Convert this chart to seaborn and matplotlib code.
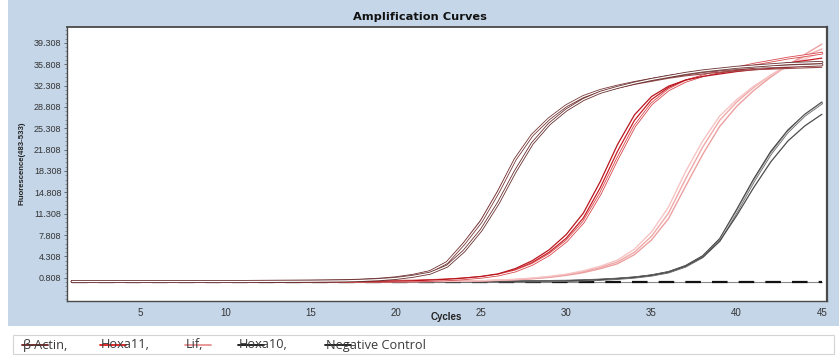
import matplotlib
matplotlib.use("Agg")
import matplotlib.pyplot as plt
from matplotlib.patches import Rectangle
from matplotlib.lines import Line2D
from matplotlib.ticker import AutoMinorLocator
import seaborn as sns
import pandas as pd

# ---------------- data ----------------
cycles = list(range(1, 46))

actin_r1 = [0.20, 0.20, 0.20, 0.20, 0.20, 0.20, 0.20, 0.20, 0.20, 0.20, 0.20, 0.21, 0.22, 0.23, 0.25, 0.28,
            0.33, 0.42, 0.56, 0.80, 1.2, 1.8, 3.3, 6.4, 10.0, 14.8, 20.2, 24.2, 26.9, 29.0, 30.5, 31.5, 32.2,
            32.8, 33.3, 33.8, 34.2, 34.6, 34.9, 35.1, 35.3, 35.4, 35.5, 35.6, 35.7]
actin_r2 = [0.20, 0.20, 0.20, 0.20, 0.20, 0.20, 0.20, 0.20, 0.20, 0.20, 0.20, 0.21, 0.22, 0.23, 0.24, 0.27,
            0.30, 0.38, 0.50, 0.70, 1.05, 1.55, 2.7, 5.2, 8.6, 13.0, 18.2, 22.8, 26.0, 28.3, 30.0, 31.2, 32.0,
            32.7, 33.3, 33.8, 34.3, 34.7, 35.0, 35.3, 35.5, 35.7, 35.9, 36.0, 36.1]
actin_r3 = [0.20, 0.20, 0.20, 0.20, 0.20, 0.20, 0.20, 0.20, 0.20, 0.20, 0.20, 0.21, 0.22, 0.23, 0.25, 0.29,
            0.34, 0.44, 0.58, 0.84, 1.25, 1.9, 3.4, 6.6, 10.3, 15.1, 20.4, 24.3, 26.9, 28.9, 30.3, 31.2, 31.9,
            32.5, 33.0, 33.5, 33.9, 34.2, 34.5, 34.7, 34.9, 35.0, 35.1, 35.2, 35.3]

hoxa11_r1 = [0.20, 0.20, 0.20, 0.20, 0.20, 0.20, 0.20, 0.20, 0.20, 0.20, 0.20, 0.20, 0.20, 0.20, 0.20, 0.20,
             0.20, 0.21, 0.23, 0.26, 0.30, 0.40, 0.52, 0.70, 0.95, 1.35, 2.1, 3.3, 5.0, 7.3, 10.6, 15.6, 21.5,
             26.6, 30.0, 32.0, 33.2, 33.9, 34.4, 34.8, 35.2, 35.6, 36.0, 36.4, 36.8]
hoxa11_r2 = [0.20, 0.20, 0.20, 0.20, 0.20, 0.20, 0.20, 0.20, 0.20, 0.20, 0.20, 0.20, 0.20, 0.20, 0.20, 0.20,
             0.20, 0.21, 0.22, 0.25, 0.28, 0.37, 0.48, 0.64, 0.88, 1.25, 1.9, 3.0, 4.6, 6.8, 9.9, 14.6, 20.3,
             25.6, 29.3, 31.6, 33.0, 33.9, 34.6, 35.2, 35.8, 36.3, 36.8, 37.2, 37.6]
hoxa11_r3 = [0.20, 0.20, 0.20, 0.20, 0.20, 0.20, 0.20, 0.20, 0.20, 0.20, 0.20, 0.20, 0.20, 0.20, 0.20, 0.20,
             0.20, 0.21, 0.23, 0.27, 0.32, 0.43, 0.56, 0.76, 1.02, 1.45, 2.3, 3.6, 5.4, 7.9, 11.4, 16.6, 22.6,
             27.5, 30.5, 32.2, 33.2, 33.8, 34.2, 34.6, 34.9, 35.1, 35.3, 35.5, 35.6]

lif_r1 = [0.20, 0.20, 0.20, 0.20, 0.20, 0.20, 0.20, 0.20, 0.20, 0.20, 0.20, 0.20, 0.20, 0.20, 0.20, 0.20,
          0.20, 0.20, 0.20, 0.20, 0.20, 0.21, 0.23, 0.26, 0.31, 0.40, 0.52, 0.70, 0.95, 1.3, 1.8, 2.5, 3.4,
          5.0, 7.6, 11.4, 17.0, 22.2, 26.6, 29.6, 32.0, 34.0, 35.7, 37.1, 38.3]
lif_r2 = [0.20, 0.20, 0.20, 0.20, 0.20, 0.20, 0.20, 0.20, 0.20, 0.20, 0.20, 0.20, 0.20, 0.20, 0.20, 0.20,
          0.20, 0.20, 0.20, 0.20, 0.20, 0.21, 0.22, 0.25, 0.29, 0.37, 0.48, 0.64, 0.87, 1.2, 1.65, 2.3, 3.1,
          4.6, 7.0, 10.5, 15.8, 21.0, 25.6, 28.9, 31.5, 33.7, 35.6, 37.4, 39.1]
lif_r3 = [0.20, 0.20, 0.20, 0.20, 0.20, 0.20, 0.20, 0.20, 0.20, 0.20, 0.20, 0.20, 0.20, 0.20, 0.20, 0.20,
          0.20, 0.20, 0.20, 0.20, 0.20, 0.21, 0.23, 0.27, 0.33, 0.43, 0.56, 0.76, 1.03, 1.4, 1.95, 2.7, 3.7,
          5.5, 8.3, 12.4, 18.2, 23.2, 27.3, 30.0, 32.2, 34.0, 35.5, 36.7, 37.8]

hoxa10_r1 = [0.20, 0.20, 0.20, 0.20, 0.20, 0.20, 0.20, 0.20, 0.20, 0.20, 0.20, 0.20, 0.20, 0.20, 0.20, 0.20,
             0.20, 0.20, 0.20, 0.20, 0.20, 0.20, 0.20, 0.20, 0.20, 0.21, 0.22, 0.24, 0.27, 0.32, 0.40, 0.52,
             0.68, 0.90, 1.25, 1.8, 2.8, 4.4, 7.2, 12.0, 17.0, 21.5, 25.0, 27.6, 29.6]
hoxa10_r2 = [0.20, 0.20, 0.20, 0.20, 0.20, 0.20, 0.20, 0.20, 0.20, 0.20, 0.20, 0.20, 0.20, 0.20, 0.20, 0.20,
             0.20, 0.20, 0.20, 0.20, 0.20, 0.20, 0.20, 0.20, 0.20, 0.21, 0.22, 0.23, 0.26, 0.30, 0.38, 0.49,
             0.64, 0.85, 1.18, 1.7, 2.65, 4.2, 6.9, 11.6, 16.6, 21.1, 24.7, 27.4, 29.4]
hoxa10_r3 = [0.20, 0.20, 0.20, 0.20, 0.20, 0.20, 0.20, 0.20, 0.20, 0.20, 0.20, 0.20, 0.20, 0.20, 0.20, 0.20,
             0.20, 0.20, 0.20, 0.20, 0.20, 0.20, 0.20, 0.20, 0.20, 0.21, 0.22, 0.24, 0.27, 0.31, 0.39, 0.50,
             0.66, 0.87, 1.2, 1.72, 2.7, 4.2, 6.8, 11.0, 15.6, 19.8, 23.2, 25.7, 27.6]

negative_r1 = [0.15, 0.15, 0.15, 0.15, 0.15, 0.15, 0.15, 0.15, 0.15, 0.15, 0.15, 0.15, 0.15, 0.15, 0.15,
               0.15, 0.15, 0.15, 0.15, 0.15, 0.15, 0.15, 0.15, 0.15, 0.15, 0.15, 0.15, 0.15, 0.15, 0.15,
               0.15, 0.15, 0.15, 0.15, 0.15, 0.15, 0.15, 0.15, 0.15, 0.15, 0.15, 0.15, 0.15, 0.15, 0.15]
negative_r2 = [0.12, 0.12, 0.12, 0.12, 0.12, 0.12, 0.12, 0.12, 0.12, 0.12, 0.12, 0.12, 0.12, 0.12, 0.12,
               0.12, 0.12, 0.12, 0.12, 0.12, 0.12, 0.12, 0.12, 0.12, 0.12, 0.12, 0.12, 0.12, 0.12, 0.12,
               0.12, 0.12, 0.12, 0.12, 0.12, 0.12, 0.12, 0.12, 0.12, 0.12, 0.12, 0.12, 0.12, 0.12, 0.12]

legend_labels = ["β-Actin,", "Hoxa11,", "Lif,", "Hoxa10,", "Negative Control"]
ytick_values = [0.808, 4.308, 7.808, 11.308, 14.808, 18.308, 21.808, 25.308, 28.808, 32.308, 35.808, 39.308]
ytick_labels = ["0.808", "4.308", "7.808", "11.308", "14.808", "18.308", "21.808", "25.308",
                "28.808", "32.308", "35.808", "39.308"]
xtick_values = [5, 10, 15, 20, 25, 30, 35, 40, 45]

traces = {
    "hoxa10_r1": hoxa10_r1, "hoxa10_r2": hoxa10_r2, "hoxa10_r3": hoxa10_r3,
    "lif_r1": lif_r1, "lif_r2": lif_r2, "lif_r3": lif_r3,
    "hoxa11_r1": hoxa11_r1, "hoxa11_r2": hoxa11_r2, "hoxa11_r3": hoxa11_r3,
    "actin_r3": actin_r3, "actin_r1": actin_r1, "actin_r2": actin_r2,
}
palette = {
    "actin_r1": "#7a3c3c", "actin_r2": "#6a3030", "actin_r3": "#9a4a4a",
    "hoxa11_r1": "#c81e26", "hoxa11_r2": "#d8484c", "hoxa11_r3": "#b8161e",
    "lif_r1": "#f0a8a8", "lif_r2": "#eca0a0", "lif_r3": "#f6c4c4",
    "hoxa10_r1": "#3c3c3c", "hoxa10_r2": "#6a6a6a", "hoxa10_r3": "#4c4c4c",
}
widths = {
    "actin_r1": 2.1, "actin_r2": 2.1, "actin_r3": 0.8,
    "hoxa11_r1": 0.9, "hoxa11_r2": 1.9, "hoxa11_r3": 0.9,
    "lif_r1": 1.0, "lif_r2": 1.0, "lif_r3": 1.0,
    "hoxa10_r1": 0.9, "hoxa10_r2": 1.6, "hoxa10_r3": 0.9,
}
hollow = ["actin_r1", "actin_r2", "hoxa11_r2", "hoxa10_r2"]

rows = []
for name, vals in traces.items():
    assert len(vals) == 45, name
    for c, v in zip(cycles, vals):
        rows.append({"Cycle": c, "Fluor": v, "trace": name})
df = pd.DataFrame(rows)
neg_df = pd.DataFrame({"Cycle": cycles, "r1": negative_r1, "r2": negative_r2})

# ---------------- figure ----------------
sns.set_style("white")
W, H = 839, 360
fig = plt.figure(figsize=(W / 100, H / 100), dpi=100)
fig.patch.set_facecolor("white")

def fx(px):
    return px / W

def fy(py):
    return (H - py) / H

# blue panel
fig.add_artist(Rectangle((fx(8), fy(326)), fx(839) - fx(8), fy(0) - fy(326),
                         transform=fig.transFigure, facecolor="#c5d6e8", edgecolor="none", zorder=0))
# legend box
fig.add_artist(Rectangle((fx(13), fy(354)), fx(834) - fx(13), fy(335) - fy(354),
                         transform=fig.transFigure, facecolor="white", edgecolor="#d4d4d4",
                         linewidth=0.8, zorder=1))

ax = fig.add_axes([fx(67), fy(301), fx(827) - fx(67), fy(27) - fy(301)])
ax.set_facecolor("white")

sns.lineplot(data=neg_df, x="Cycle", y="r1", ax=ax, color="#8a8a8a", linewidth=0.8, legend=False)
sns.lineplot(data=neg_df, x="Cycle", y="r2", ax=ax, color="#111111", linewidth=1.6, legend=False,
             linestyle=(0, (7, 5)))
for name in traces:
    sub = df[df["trace"] == name]
    sns.lineplot(data=sub, x="Cycle", y="Fluor", ax=ax, color=palette[name],
                 linewidth=widths[name], legend=False, estimator=None)
    if name in hollow:
        sns.lineplot(data=sub, x="Cycle", y="Fluor", ax=ax, color="white",
                     linewidth=widths[name] - 1.2, legend=False, estimator=None)

ax.set_xlim(0.7, 45.3)
ax.set_ylim(-3.0, 41.9)
ax.set_xticks(xtick_values)
ax.set_xticklabels([str(v) for v in xtick_values])
ax.set_yticks(ytick_values)
ax.set_yticklabels(ytick_labels)
ax.yaxis.set_minor_locator(AutoMinorLocator(5))
ax.tick_params(axis="x", length=0, pad=5, labelsize=7, labelcolor="#333333")
ax.tick_params(axis="y", which="major", length=2.5, width=0.6, color="#555555", pad=1.5,
               labelsize=6.5, labelcolor="#333333", left=True)
ax.tick_params(axis="y", which="minor", length=1.5, width=0.5, color="#777777", left=True)
for lab in ax.get_xticklabels() + ax.get_yticklabels():
    lab.set_fontfamily("Liberation Sans")
ax.set_xlabel("")
ax.set_ylabel("")
for side in ["left", "bottom", "top", "right"]:
    ax.spines[side].set_visible(True)
    ax.spines[side].set_color("#4a4a4a")
    ax.spines[side].set_linewidth(1.0)
ax.spines["right"].set_linewidth(1.6)
ax.spines["top"].set_linewidth(1.3)

# texts
fig.text(fx(420), fy(17), "Amplification Curves", ha="center", va="center", fontsize=8.2,
         fontweight="bold", color="#111111", family="DejaVu Sans")
fig.text(fx(446), fy(317), "Cycles", ha="center", va="center", fontsize=7,
         fontweight="bold", color="#222222", family="Liberation Sans")
fig.text(fx(22), fy(163), "Fluorescence(483-533)", ha="center", va="center", rotation=90,
         fontsize=5.6, fontweight="bold", color="#222222", family="Liberation Sans")

# legend entries
leg_x = [22, 100, 185, 238, 325]
leg_colors = ["#6b2020", "#e01818", "#e89090", "#111111", "#111111"]
for x0, lab, col in zip(leg_x, legend_labels, leg_colors):
    fig.text(fx(x0 + 1), fy(345), lab, ha="left", va="center", fontsize=9.2,
             color="#3a3a3a", family="Open Sans")
    fig.add_artist(Line2D([fx(x0), fx(x0 + 26)], [fy(345), fy(345)], transform=fig.transFigure,
                          color=col, linewidth=1.3))

fig.savefig("out.png", dpi=100, facecolor="white")
